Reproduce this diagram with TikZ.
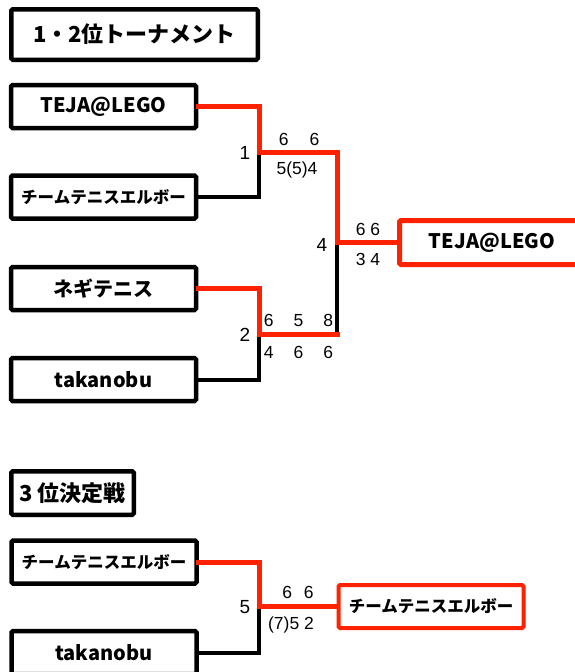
\documentclass[tikz,border=0pt]{standalone}
\usepackage{fontspec}
\setmainfont{Liberation Sans}
\newfontfamily\jpfont{Noto Sans CJK JP}
\definecolor{winred}{RGB}{255,34,0}
\tikzstyle{box}=[draw, line width=4.5pt, rounded corners=1.5pt, inner sep=0, font=\jpfont\bfseries]
\tikzstyle{title}=[box, font={\jpfont\bfseries\fontsize{22pt}{22pt}\selectfont}]
\tikzstyle{team}=[box, minimum width=185pt, minimum height=43pt]
\tikzstyle{winner}=[team, draw=winred]
\tikzstyle{big}=[font={\jpfont\bfseries\fontsize{20pt}{20pt}\selectfont}]
\tikzstyle{small}=[font={\jpfont\bfseries\fontsize{16.5pt}{16.5pt}\selectfont}]
\tikzstyle{score}=[inner sep=0, text height=12.5pt, text depth=0pt, font=\fontsize{17.5pt}{17.5pt}\selectfont]
\tikzstyle{round}=[score, text height=13.5pt, font=\fontsize{19pt}{19pt}\selectfont]
\tikzstyle{win}=[draw=winred, line width=5pt, line cap=rect]
\tikzstyle{lose}=[draw=black, line width=4pt, line cap=rect]

\begin{document}
\begin{tikzpicture}[x=1pt, y=-1pt]
    \useasboundingbox (0,0) rectangle (574,672);
    % 1-2 place
    \node[title, minimum width=246.5pt, minimum height=50.5pt] (head1) at (134.5,34.5) {1・2位トーナメント};
    \node[team, big]   (t1) at (103.5,106.5) {TEJA@LEGO};
    \node[team, small] (t2) at (103.5,197)   {チームテニスエルボー};
    \node[team, big]   (t3) at (103.5,288.5) {ネギテニス};
    \node[team, big]   (t4) at (103.5,379.5) {takanobu};
    \node[winner, big, minimum height=44pt, line width=5pt] (w1) at (492,242.5) {TEJA@LEGO};
    \coordinate (m1) at (259,152);
    \coordinate (m2) at (259,334);
    \coordinate (m4) at (337,242.5);
    \draw[lose] (t2) -| (m1);
    \draw[lose] (t4) -| (m2);
    \draw[lose] (m4 |- m2) -- (m4);
    \draw[win] (t1) -| (m1) -| (m4) -- (w1.west);
    \draw[win] (t3) -| (m2) -- (m4 |- m2);
    \node[round] (n1)  at (245,153)   {1};
    \node[score] (s1w) at (299,139)   {6\hspace{21pt}6};
    \node[score] (s1l) at (297,168)   {5(5)4};
    \node[round] (n2)  at (245,335)   {2};
    \node[score] (s2w) at (298.5,320) {6\hspace{20pt}5\hspace{20pt}8};
    \node[score] (s2l) at (298.5,352) {4\hspace{20pt}6\hspace{20pt}6};
    \node[round] (n4)  at (322,245)   {4};
    \node[score] (s4w) at (368,229)   {6 6};
    \node[score] (s4l) at (368,259)   {3 4};
    % 3rd place
    \node[title, minimum width=122.5pt, minimum height=43.5pt] (head2) at (72.5,493) {3\hspace{4pt}位決定戦};
    \node[team, small] (t5) at (104,562)   {チームテニスエルボー};
    \node[team, big]   (t6) at (104,652.5) {takanobu};
    \node[winner, small, line width=4pt] (w2) at (431,606.5) {チームテニスエルボー};
    \coordinate (m5) at (259,606.5);
    \draw[lose] (t6) -| (m5);
    \draw[win] (t5) -| (m5) -- (w2.west);
    \node[round] (n5)  at (245,607) {5};
    \node[score] (s5w) at (298,592) {6\hspace{12pt}6};
    \node[score] (s5l) at (291,623) {(7)5 2};
\end{tikzpicture}
\end{document}
